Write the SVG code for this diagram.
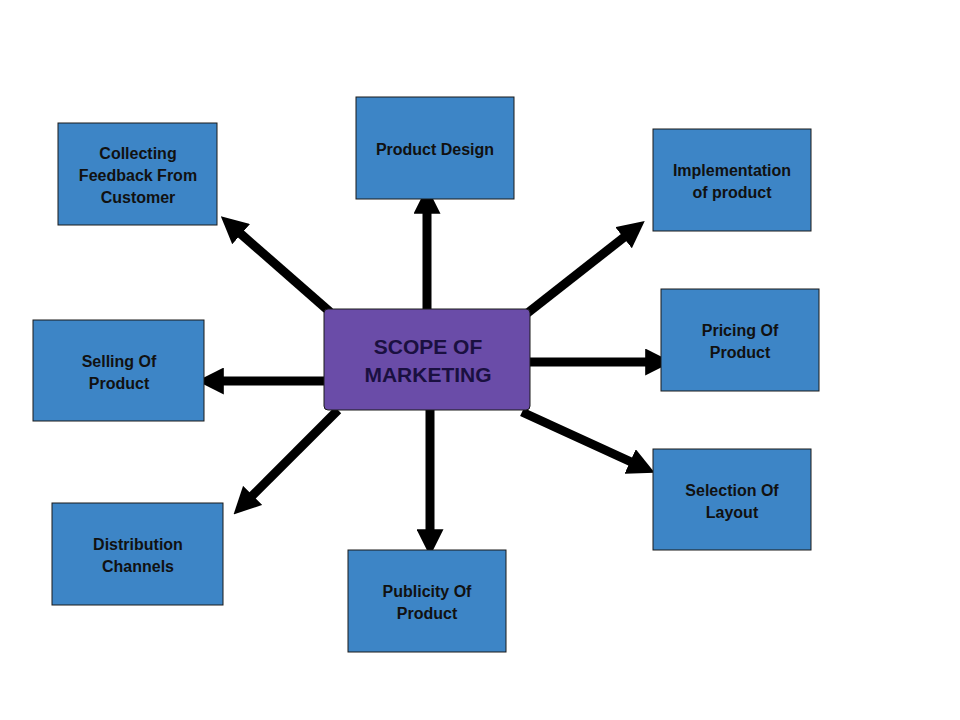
<svg xmlns="http://www.w3.org/2000/svg" width="960" height="720" viewBox="0 0 960 720">
<style>
.n{fill:#3d85c6;stroke:#1a1a1a;stroke-width:1}
.t{font-family:"Liberation Sans",Arial,sans-serif;font-weight:bold;font-size:16px;fill:#111;text-anchor:middle}
.c{stroke:#000;stroke-width:9;fill:none;marker-end:url(#a)}
</style>
<defs><marker id="a" markerWidth="3" markerHeight="3" refX="1.2" refY="1.5" orient="auto"><path d="M0,0 L3,1.5 L0,3 Z" fill="#000"/></marker></defs>
<rect width="960" height="720" fill="#fff"/>
<g id="connectors">
<line class="c" x1="427" y1="309" x2="427" y2="203"/>
<line class="c" x1="330" y1="312" x2="233" y2="227"/>
<line class="c" x1="525" y1="315" x2="632" y2="231"/>
<line class="c" x1="530" y1="362" x2="656" y2="362"/>
<line class="c" x1="522" y1="412" x2="640" y2="466"/>
<line class="c" x1="430" y1="410" x2="430" y2="540"/>
<line class="c" x1="338" y1="410" x2="245" y2="503"/>
<line class="c" x1="338" y1="381" x2="213" y2="381"/>
</g>
<g id="center"><rect x="324" y="309" width="206" height="101" rx="4" fill="#6a4ca8" stroke="#1a1a1a"/>
<text class="t" x="428" y="354" style="font-size:21px;fill:#1a1040">SCOPE OF</text><text class="t" x="428" y="382" style="font-size:21px;fill:#1a1040">MARKETING</text></g>
<g id="collecting"><rect class="n" x="58" y="123" width="159" height="102"/><text class="t" x="138" y="159">Collecting</text><text class="t" x="138" y="181">Feedback From</text><text class="t" x="138" y="203">Customer</text></g>
<g id="design"><rect class="n" x="356" y="97" width="158" height="102"/><text class="t" x="435" y="155">Product Design</text></g>
<g id="implementation"><rect class="n" x="653" y="129" width="158" height="102"/><text class="t" x="732" y="176">Implementation</text><text class="t" x="732" y="198">of product</text></g>
<g id="pricing"><rect class="n" x="661" y="289" width="158" height="102"/><text class="t" x="740" y="336">Pricing Of</text><text class="t" x="740" y="358">Product</text></g>
<g id="selection"><rect class="n" x="653" y="449" width="158" height="101"/><text class="t" x="732" y="496">Selection Of</text><text class="t" x="732" y="518">Layout</text></g>
<g id="publicity"><rect class="n" x="348" y="550" width="158" height="102"/><text class="t" x="427" y="597">Publicity Of</text><text class="t" x="427" y="619">Product</text></g>
<g id="distribution"><rect class="n" x="52" y="503" width="171" height="102"/><text class="t" x="138" y="550">Distribution</text><text class="t" x="138" y="572">Channels</text></g>
<g id="selling"><rect class="n" x="33" y="320" width="171" height="101"/><text class="t" x="119" y="367">Selling Of</text><text class="t" x="119" y="389">Product</text></g>
</svg>
